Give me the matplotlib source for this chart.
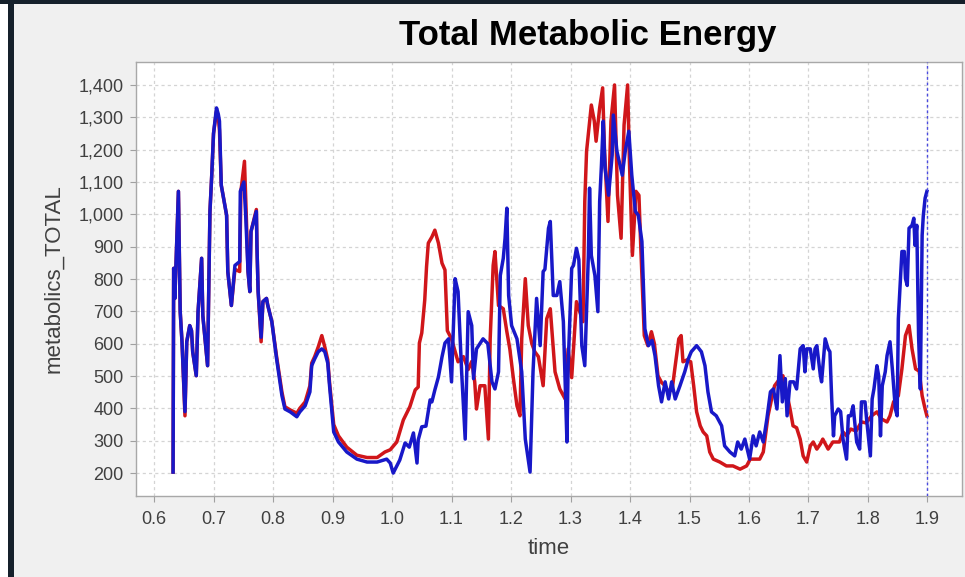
import matplotlib
matplotlib.use("Agg")
import matplotlib.pyplot as plt
from matplotlib.patches import Rectangle
from matplotlib.ticker import FuncFormatter

# ---------------- data ----------------
title = "Total Metabolic Energy"
x_label = "time"
y_label = "metabolics_TOTAL"
x_ticks = [0.6, 0.7, 0.8, 0.9, 1.0, 1.1, 1.2, 1.3, 1.4, 1.5, 1.6, 1.7, 1.8, 1.9]
y_ticks = [200, 300, 400, 500, 600, 700, 800, 900, 1000, 1100, 1200, 1300, 1400]
cursor_time = 1.899

blue_time = [
    0.632, 0.633, 0.635, 0.641, 0.644, 0.647, 0.652, 0.655, 0.660, 0.663, 0.665, 0.671,
    0.674, 0.680, 0.682, 0.690, 0.694, 0.697, 0.700, 0.705, 0.708, 0.710, 0.713, 0.722,
    0.724, 0.730, 0.736, 0.744, 0.745, 0.751, 0.754, 0.758, 0.761, 0.763, 0.772, 0.773,
    0.775, 0.780, 0.783, 0.789, 0.791, 0.798, 0.806, 0.815, 0.820, 0.829, 0.840, 0.845,
    0.854, 0.862, 0.865, 0.870, 0.876, 0.882, 0.887, 0.892, 0.895, 0.902, 0.910, 0.924,
    0.941, 0.958, 0.975, 0.991, 0.997, 1.002, 1.013, 1.022, 1.029, 1.036, 1.042, 1.044,
    1.050, 1.057, 1.064, 1.067, 1.072, 1.078, 1.084, 1.089, 1.095, 1.100, 1.106, 1.111,
    1.117, 1.123, 1.128, 1.134, 1.137, 1.142, 1.153, 1.161, 1.168, 1.173, 1.179, 1.182,
    1.187, 1.190, 1.193, 1.196, 1.201, 1.210, 1.218, 1.224, 1.232, 1.237, 1.243, 1.249,
    1.254, 1.257, 1.263, 1.266, 1.271, 1.277, 1.282, 1.288, 1.294, 1.296, 1.302, 1.305,
    1.310, 1.314, 1.319, 1.324, 1.330, 1.332, 1.335, 1.341, 1.346, 1.349, 1.352, 1.355,
    1.358, 1.364, 1.370, 1.372, 1.378, 1.387, 1.392, 1.398, 1.403, 1.409, 1.414, 1.420,
    1.425, 1.431, 1.437, 1.442, 1.448, 1.453, 1.459, 1.465, 1.470, 1.476, 1.484, 1.492,
    1.498, 1.503, 1.512, 1.520, 1.526, 1.531, 1.537, 1.545, 1.554, 1.559, 1.568, 1.576,
    1.581, 1.587, 1.593, 1.601, 1.607, 1.612, 1.618, 1.624, 1.630, 1.636, 1.641, 1.647,
    1.652, 1.656, 1.661, 1.664, 1.669, 1.675, 1.680, 1.686, 1.691, 1.694, 1.697, 1.703,
    1.708, 1.711, 1.714, 1.720, 1.722, 1.728, 1.733, 1.736, 1.739, 1.742, 1.744, 1.750,
    1.754, 1.758, 1.764, 1.767, 1.771, 1.775, 1.781, 1.786, 1.789, 1.795, 1.798, 1.804,
    1.807, 1.810, 1.815, 1.818, 1.821, 1.824, 1.829, 1.832, 1.837, 1.841, 1.846, 1.849,
    1.851, 1.854, 1.857, 1.861, 1.863, 1.866, 1.869, 1.874, 1.877, 1.879, 1.882, 1.885,
    1.888, 1.891, 1.893, 1.896, 1.899,
]
blue_value = [
    203, 833, 740, 1071, 699, 606, 390, 606, 656, 640, 575, 501,
    699, 864, 687, 532, 1009, 1121, 1250, 1329, 1310, 1288, 1090, 997,
    823, 718, 842, 854, 1071, 1100, 1000, 823, 761, 947, 1009, 900,
    761, 620, 730, 740, 720, 668, 553, 439, 398, 389, 374, 389,
    408, 451, 532, 553, 575, 584, 575, 540, 470, 327, 296, 265,
    243, 234, 234, 243, 231, 200, 240, 293, 280, 324, 231, 302,
    343, 345, 426, 420, 457, 497, 559, 602, 615, 482, 801, 761,
    513, 305, 699, 656, 492, 584, 615, 600, 482, 460, 513, 811,
    864, 926, 1019, 749, 656, 615, 513, 305, 203, 513, 740, 594,
    823, 830, 957, 978, 749, 749, 792, 668, 296, 532, 833, 842,
    895, 860, 594, 532, 873, 1081, 873, 811, 699, 1040, 1152, 1288,
    1143, 1059, 1183, 1307, 1195, 1121, 1195, 1257, 1121, 1009, 997, 916,
    646, 594, 610, 563, 470, 420, 482, 429, 482, 429, 470, 513,
    553, 575, 594, 575, 532, 451, 389, 377, 346, 284, 265, 253,
    296, 274, 305, 243, 315, 284, 327, 296, 367, 451, 460, 398,
    563, 420, 492, 377, 482, 482, 460, 584, 594, 513, 584, 584,
    522, 584, 594, 501, 482, 615, 584, 575, 429, 315, 377, 398,
    390, 305, 243, 377, 377, 408, 296, 274, 420, 420, 360, 253,
    429, 460, 532, 500, 315, 470, 513, 563, 606, 520, 398, 377,
    677, 780, 885, 885, 801, 780, 957, 966, 988, 904, 966, 625,
    460, 935, 997, 1050, 1071,
]

red_time = [
    0.632, 0.633, 0.635, 0.641, 0.644, 0.647, 0.652, 0.655, 0.660, 0.663, 0.665, 0.671,
    0.674, 0.680, 0.682, 0.690, 0.694, 0.697, 0.700, 0.705, 0.708, 0.710, 0.713, 0.722,
    0.724, 0.730, 0.736, 0.744, 0.746, 0.752, 0.755, 0.758, 0.761, 0.763, 0.772, 0.773,
    0.775, 0.780, 0.783, 0.789, 0.791, 0.798, 0.806, 0.815, 0.820, 0.829, 0.840, 0.845,
    0.854, 0.862, 0.865, 0.870, 0.876, 0.882, 0.887, 0.892, 0.895, 0.902, 0.910, 0.924,
    0.941, 0.958, 0.975, 0.988, 0.997, 1.008, 1.019, 1.030, 1.039, 1.044, 1.046, 1.050,
    1.055, 1.058, 1.061, 1.067, 1.072, 1.078, 1.084, 1.089, 1.093, 1.100, 1.111, 1.120,
    1.128, 1.134, 1.139, 1.142, 1.148, 1.156, 1.162, 1.165, 1.170, 1.173, 1.179, 1.187,
    1.193, 1.198, 1.204, 1.210, 1.215, 1.218, 1.224, 1.229, 1.235, 1.240, 1.246, 1.254,
    1.260, 1.266, 1.274, 1.282, 1.291, 1.296, 1.302, 1.310, 1.321, 1.324, 1.327, 1.335,
    1.340, 1.343, 1.349, 1.354, 1.357, 1.363, 1.368, 1.374, 1.379, 1.385, 1.390, 1.396,
    1.399, 1.404, 1.410, 1.415, 1.418, 1.424, 1.430, 1.436, 1.441, 1.447, 1.453, 1.459,
    1.465, 1.471, 1.476, 1.482, 1.486, 1.489, 1.496, 1.502, 1.507, 1.512, 1.518, 1.523,
    1.529, 1.534, 1.540, 1.551, 1.562, 1.573, 1.585, 1.596, 1.602, 1.618, 1.624, 1.632,
    1.638, 1.643, 1.652, 1.657, 1.663, 1.669, 1.674, 1.680, 1.686, 1.691, 1.697, 1.703,
    1.708, 1.714, 1.720, 1.724, 1.733, 1.741, 1.752, 1.758, 1.764, 1.771, 1.780, 1.789,
    1.797, 1.806, 1.815, 1.823, 1.832, 1.837, 1.843, 1.851, 1.857, 1.863, 1.869, 1.874,
    1.880, 1.886, 1.891, 1.896, 1.899,
]
red_value = [
    203, 833, 740, 1071, 699, 606, 377, 606, 656, 640, 575, 501,
    699, 864, 687, 532, 1009, 1121, 1250, 1320, 1300, 1260, 1090, 997,
    823, 718, 830, 823, 1071, 1164, 1000, 823, 761, 947, 1015, 900,
    761, 606, 730, 740, 720, 668, 560, 450, 405, 395, 385, 400,
    420, 470, 540, 560, 590, 625, 590, 550, 480, 350, 315, 280,
    255, 248, 248, 265, 272, 296, 364, 405, 457, 466, 602, 633,
    735, 837, 911, 930, 951, 911, 849, 828, 640, 615, 544, 560,
    520, 545, 482, 398, 470, 470, 305, 615, 842, 885, 718, 708,
    637, 584, 492, 408, 377, 615, 801, 656, 600, 575, 560, 470,
    677, 708, 513, 460, 429, 584, 495, 730, 668, 1040, 1195, 1338,
    1288, 1226, 1329, 1391, 1205, 978, 1288, 1400, 1059, 926, 1276, 1400,
    1164, 873, 1071, 1059, 904, 625, 594, 637, 600, 501, 480, 470,
    450, 460, 532, 615, 625, 544, 550, 544, 470, 389, 346, 327,
    315, 265, 243, 234, 222, 222, 212, 222, 243, 243, 265, 377,
    429, 470, 492, 501, 451, 398, 346, 340, 305, 253, 234, 284,
    296, 274, 290, 305, 274, 296, 296, 327, 315, 336, 330, 358,
    355, 377, 389, 367, 358, 377, 420, 439, 522, 625, 656, 584,
    522, 515, 439, 398, 377,
]

# ---------------- figure ----------------
W, H = 965, 577
fig = plt.figure(figsize=(W / 100, H / 100), dpi=100, facecolor="#f0f0f0")
plt.rcParams["font.family"] = ["Liberation Sans", "DejaVu Sans"]

# window chrome: dark left bar and top edge
fig.patches.append(Rectangle((0, 0), 8 / W, 1, transform=fig.transFigure,
                             facecolor="white", edgecolor="none", zorder=0))
fig.patches.append(Rectangle((8 / W, 0), 6 / W, 1, transform=fig.transFigure,
                             facecolor="#15202b", edgecolor="none", zorder=0))
fig.patches.append(Rectangle((0, 1 - 4 / H), 1, 4 / H, transform=fig.transFigure,
                             facecolor="#15202b", edgecolor="none", zorder=0))

left, right, top, bottom = 136, 962, 62, 496
ax = fig.add_axes([left / W, 1 - bottom / H, (right - left) / W, (bottom - top) / H])
ax.set_facecolor("white")

ax.plot(red_time, red_value, color="#d0161a", lw=2.5, solid_joinstyle="round", zorder=3)
ax.plot(blue_time, blue_value, color="#1818c8", lw=2.5, solid_joinstyle="round", zorder=4)
ax.axvline(cursor_time, color="#4a4ae0", lw=1.0, ls=(0, (2, 2)), zorder=5)

ax.set_xlim(0.5697, 1.958)
ax.set_ylim(129, 1471)
ax.set_xticks(x_ticks)
ax.set_yticks(y_ticks)
ax.xaxis.set_major_formatter(FuncFormatter(lambda v, p: f"{v:.1f}"))
ax.yaxis.set_major_formatter(FuncFormatter(lambda v, p: f"{int(round(v)):,}"))

ax.grid(True, color="#d4d4d4", lw=0.9, ls=(0, (2.5, 2.5)), zorder=0)
for s in ax.spines.values():
    s.set_color("#a8a8a8")
    s.set_linewidth(1.0)
ax.tick_params(axis="both", length=4, width=0.8, color="#a0a0a0",
               labelsize=13, labelcolor="#404040")
ax.tick_params(axis="x", pad=7)
ax.tick_params(axis="y", pad=5)

ax.set_xlabel(x_label, fontsize=16, color="#404040", labelpad=7)
ax.set_ylabel(y_label, fontsize=16, color="#404040", labelpad=10)

fig.text(588 / W, 1 - 36 / H, title, ha="center", va="center",
         fontsize=25, fontweight="bold", color="black")

fig.savefig("out.png", dpi=100, facecolor=fig.get_facecolor())
